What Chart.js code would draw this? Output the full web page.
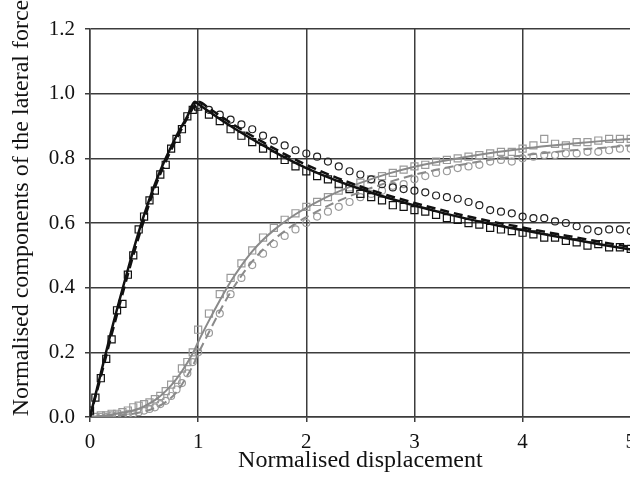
<!DOCTYPE html>
<html>
<head>
<meta charset="utf-8">
<script src="https://cdn.jsdelivr.net/npm/chart.js@4/dist/chart.umd.min.js"></script>
<style>
  html, body { margin: 0; padding: 0; background: #fff; overflow: hidden; font-family: 'Liberation Serif', serif; }
  #wrap { width: 644px; height: 480px; }
</style>
</head>
<body>
<div id="wrap"><canvas id="c" width="644" height="480"></canvas></div>
<script>
// ---- data ----
const xTicks = [0, 1, 2, 3, 4, 5];
const yTicks = [0, 0.2, 0.4, 0.6, 0.8, 1.0, 1.2];

const lineX = [0,0.1,0.2,0.3,0.4,0.5,0.6,0.7,0.8,0.9,0.97,1.0,1.1,1.2,1.3,1.4,1.5,1.6,1.7,1.8,1.9,2.0,2.25,2.5,2.75,3.0,3.25,3.5,3.75,4.0,4.25,4.5,4.75,5.0];

const blackSolid = [0,0.135,0.27,0.395,0.515,0.625,0.72,0.8,0.87,0.93,0.975,0.968,0.945,0.922,0.9,0.879,0.859,0.84,0.821,0.803,0.786,0.77,0.735,0.705,0.678,0.654,0.632,0.612,0.594,0.578,0.562,0.547,0.532,0.518];
const blackDashed = [0,0.125,0.255,0.38,0.5,0.61,0.71,0.79,0.86,0.925,0.965,0.975,0.955,0.932,0.91,0.889,0.869,0.85,0.831,0.813,0.796,0.78,0.744,0.713,0.686,0.662,0.64,0.62,0.602,0.586,0.57,0.555,0.54,0.526];
const graySolid = [0,0.003,0.008,0.013,0.02,0.033,0.052,0.08,0.118,0.168,0.21,0.232,0.298,0.36,0.418,0.468,0.512,0.548,0.578,0.604,0.627,0.647,0.69,0.724,0.752,0.774,0.791,0.806,0.819,0.83,0.839,0.847,0.854,0.86];
const grayDashed = [0,0.001,0.003,0.006,0.01,0.017,0.028,0.046,0.077,0.128,0.172,0.195,0.262,0.327,0.386,0.437,0.481,0.518,0.549,0.575,0.598,0.618,0.661,0.696,0.725,0.749,0.768,0.784,0.798,0.809,0.818,0.826,0.833,0.84];

const markerX = [0,0.05,0.1,0.15,0.2,0.25,0.3,0.35,0.4,0.45,0.5,0.55,0.6,0.65,0.7,0.75,0.8,0.85,0.9,0.95,1.0,
  1.1,1.2,1.3,1.4,1.5,1.6,1.7,1.8,1.9,2.0,2.1,2.2,2.3,2.4,2.5,2.6,2.7,2.8,2.9,3.0,
  3.1,3.2,3.3,3.4,3.5,3.6,3.7,3.8,3.9,4.0,4.1,4.2,4.3,4.4,4.5,4.6,4.7,4.8,4.9,5.0];

const blackSquares = [0.02,0.06,0.12,0.18,0.24,0.33,0.35,0.44,0.5,0.58,0.62,0.67,0.7,0.75,0.78,0.83,0.86,0.89,0.93,0.95,0.96,
  0.935,0.915,0.89,0.87,0.85,0.83,0.81,0.795,0.775,0.76,0.745,0.735,0.72,0.705,0.69,0.68,0.67,0.655,0.65,0.64,
  0.635,0.625,0.615,0.61,0.6,0.595,0.585,0.58,0.575,0.57,0.565,0.555,0.555,0.545,0.54,0.53,0.535,0.525,0.525,0.52];
const blackCircles = [null,null,null,null,null,null,null,null,null,null,null,null,null,null,null,null,null,null,null,null,0.965,
  0.95,0.935,0.92,0.905,0.89,0.87,0.855,0.84,0.825,0.815,0.805,0.79,0.775,0.76,0.75,0.735,0.72,0.71,0.705,0.7,
  0.695,0.685,0.68,0.675,0.665,0.655,0.64,0.635,0.63,0.62,0.615,0.615,0.605,0.6,0.59,0.58,0.575,0.58,0.58,0.575];
const graySquares = [0,0,0.005,0.005,0.01,0.01,0.015,0.02,0.03,0.035,0.04,0.045,0.055,0.065,0.08,0.1,0.115,0.15,0.17,0.2,0.27,
  0.32,0.38,0.43,0.475,0.515,0.555,0.585,0.61,0.63,0.65,0.665,0.68,0.7,0.71,0.725,0.735,0.745,0.755,0.765,0.775,
  0.78,0.79,0.795,0.8,0.805,0.81,0.815,0.82,0.82,0.83,0.84,0.86,0.845,0.84,0.85,0.85,0.855,0.86,0.86,0.86];
const grayCircles = [0,0,0,0,0.005,0.005,0.005,0.01,0.01,0.015,0.02,0.025,0.03,0.04,0.05,0.065,0.085,0.105,0.135,0.17,0.2,
  0.26,0.32,0.38,0.43,0.47,0.505,0.535,0.56,0.58,0.6,0.62,0.635,0.65,0.665,0.68,0.69,0.7,0.715,0.72,0.735,
  0.745,0.755,0.76,0.77,0.775,0.78,0.79,0.795,0.79,0.8,0.805,0.81,0.81,0.815,0.815,0.82,0.82,0.825,0.83,0.83];

const xTitle = 'Normalised displacement';
const yTitle = 'Normalised components of the lateral force';

// ---- build ----
const FAMILY = "'Liberation Serif', 'Times New Roman', serif";
const pts = (xs, ys) => xs.map((x, i) => ({x: x, y: ys[i]}));
const BLACK = '#111111', GRAY = '#8a8a8a', GRAYM = '#9a9a9a', GRID = '#3c3c3c';

const lineDs = (data, color, dash, w) => ({
  type: 'line', data: data, borderColor: color, borderWidth: w, borderDash: dash,
  pointRadius: 0, fill: false, tension: 0.35, cubicInterpolationMode: 'monotone'
});
const markDs = (data, color, style, r) => ({
  type: 'scatter', data: data, showLine: false, pointStyle: style, pointRadius: r,
  pointBorderColor: color, pointBackgroundColor: 'rgba(0,0,0,0)', pointBorderWidth: 1.2
});

// y-axis title, drawn as canvas text slightly above the plot's vertical centre
const yTitlePlugin = {
  id: 'yTitleText',
  afterDraw(chart) {
    const ctx = chart.ctx, ys = chart.scales.y, area = chart.chartArea;
    ctx.save();
    ctx.translate(ys.left + 22, (area.top + area.bottom) / 2 - 15);
    ctx.rotate(-Math.PI / 2);
    ctx.font = "24px " + FAMILY;
    ctx.fillStyle = '#111';
    ctx.textAlign = 'center';
    ctx.textBaseline = 'middle';
    ctx.fillText(yTitle, 0, 0);
    ctx.restore();
  }
};

function draw() {
  new Chart(document.getElementById('c'), {
    type: 'scatter',
    data: {
      datasets: [
        lineDs(pts(lineX, blackSolid), BLACK, [], 2.5),
        lineDs(pts(lineX, blackDashed), BLACK, [9, 5], 2.5),
        lineDs(pts(lineX, graySolid), GRAY, [], 2),
        lineDs(pts(lineX, grayDashed), GRAY, [9, 5], 2),
        markDs(pts(markerX, blackSquares), BLACK, 'rect', 5),
        markDs(pts(markerX, blackCircles), '#222222', 'circle', 3.5),
        markDs(pts(markerX, graySquares), GRAYM, 'rect', 5),
        markDs(pts(markerX, grayCircles), GRAYM, 'circle', 3.5)
      ]
    },
    plugins: [yTitlePlugin],
    options: {
      responsive: false,
      animation: false,
      devicePixelRatio: 1,
      layout: { padding: { top: 29, left: 0, right: 0, bottom: 0 } },
      plugins: { legend: { display: false }, tooltip: { enabled: false } },
      scales: {
        x: {
          type: 'linear', min: 0, max: 5,
          afterBuildTicks: (s) => { s.ticks = xTicks.map(v => ({value: v})); },
          afterFit: (s) => { s.height = 63; },
          grid: { color: GRID, lineWidth: 1.5, tickLength: 5, drawTicks: true },
          border: { color: GRID, width: 1.5 },
          ticks: { color: '#111', padding: 8, font: { family: FAMILY, size: 21 } },
          title: { display: true, text: xTitle, color: '#111', padding: { top: 0, bottom: 5 },
                   font: { family: FAMILY, size: 24 } }
        },
        y: {
          type: 'linear', min: 0, max: 1.2,
          afterBuildTicks: (s) => { s.ticks = yTicks.map(v => ({value: v})); },
          afterFit: (s) => { s.width = 90; },
          grid: { color: GRID, lineWidth: 1.5, tickLength: 5, drawTicks: true },
          border: { color: GRID, width: 1.5 },
          ticks: { color: '#111', padding: 10, font: { family: FAMILY, size: 21 },
                   callback: (v) => Number(v).toFixed(1) },
          title: { display: false, text: yTitle }
        }
      }
    }
  });
}
if (document.fonts && document.fonts.load) {
  Promise.all([document.fonts.load("21px 'Liberation Serif'"), document.fonts.load("24px 'Liberation Serif'")])
    .then(draw, draw);
} else { draw(); }
</script>
</body>
</html>
